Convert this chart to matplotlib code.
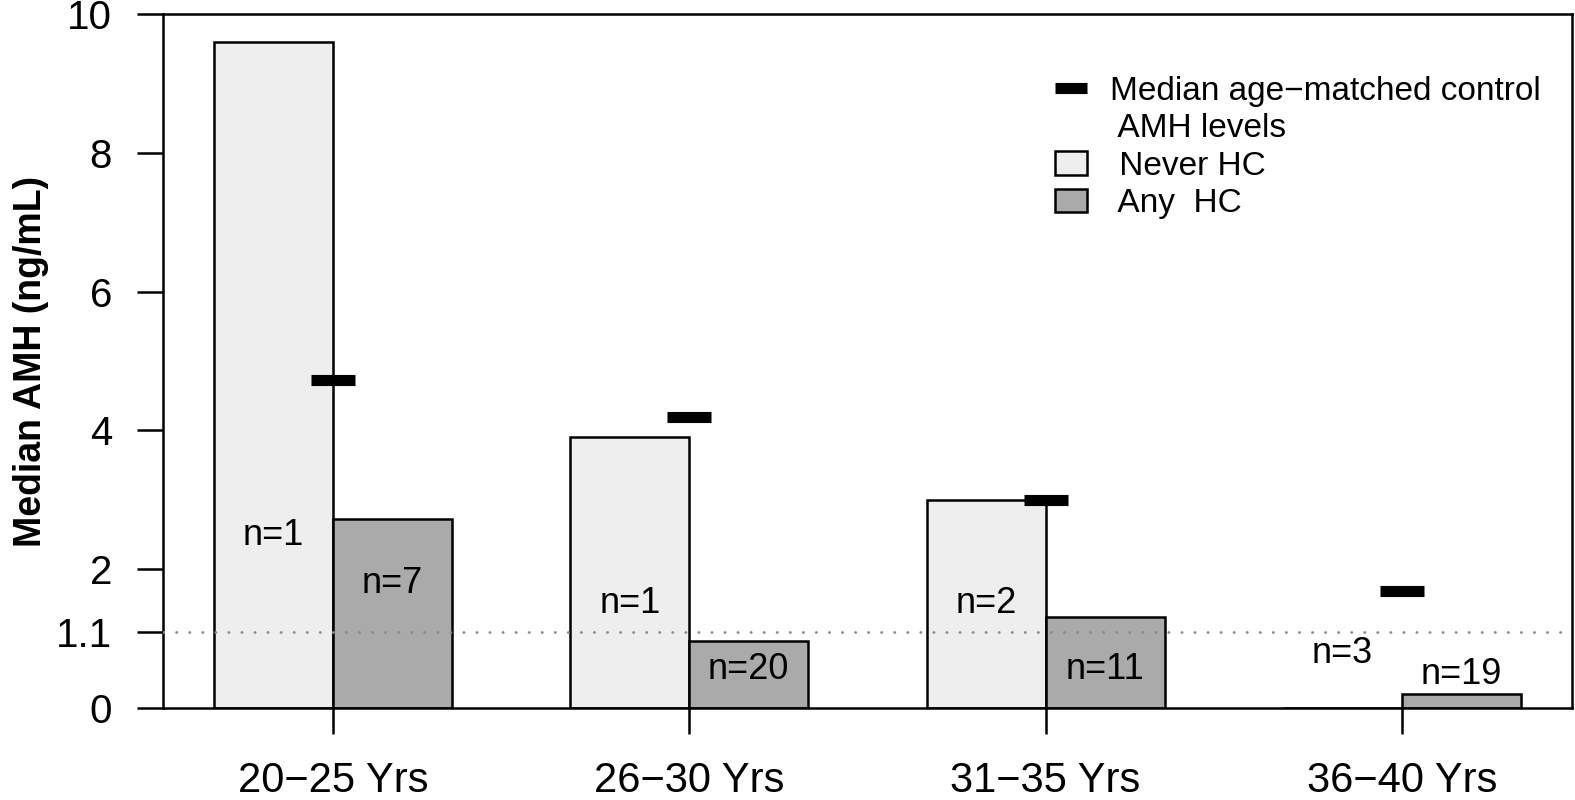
import numpy as np
import matplotlib
matplotlib.use("Agg")
import matplotlib.pyplot as plt
from matplotlib.lines import Line2D
from matplotlib.patches import Patch

plt.rcParams['font.family'] = ['Liberation Sans', 'DejaVu Sans']

# ========================
# Data
# ========================
age_groups = ["20\u221225 Yrs", "26\u221230 Yrs", "31\u221235 Yrs", "36\u221240 Yrs"]
never_hc = [9.6, 3.9, 3.0, 0.0]
any_hc = [2.72, 0.97, 1.31, 0.2]
control_median = [4.73, 4.19, 3.0, 1.68]
never_n = ["n=1", "n=1", "n=2", "n=3"]
any_n = ["n=7", "n=20", "n=11", "n=19"]
never_label_y = [2.48, 1.5, 1.5, 0.78]
any_label_y = [1.8, 0.55, 0.55, 0.48]
cutoff = 1.1
yticks = [0, 1.1, 2, 4, 6, 8, 10]
ytick_labels = ["0", "1.1", "2", "4", "6", "8", "10"]

# ========================
# Figure
# ========================
fig = plt.figure(figsize=(15.75, 8), dpi=100)
ax = fig.add_axes([0.1035, 0.115, 0.8945, 0.8675])

x = np.arange(len(age_groups))
width = 0.334
lw = 1.8

ax.bar(x - width / 2, never_hc, width, color="#EEEEEE", edgecolor="black", linewidth=lw, zorder=2)
ax.bar(x + width / 2, any_hc, width, color="#AAAAAA", edgecolor="black", linewidth=lw, zorder=2)

# cutoff reference line
ax.axhline(cutoff, color="#8c8c8c", linewidth=2, linestyle=(0, (0.1, 4.6)),
           dash_capstyle="round", zorder=3)

# age-matched control medians
ax.plot(x, control_median, linestyle="none", marker="_", markersize=31.7,
        markeredgewidth=8, color="black", zorder=4)

# sample sizes
for i in range(len(x)):
    ax.text(x[i] - width / 2, never_label_y[i], never_n[i], ha="center", va="center", fontsize=26, zorder=5)
    ax.text(x[i] + width / 2, any_label_y[i], any_n[i], ha="center", va="center", fontsize=26, zorder=5)

ax.set_xlim(-0.477, 3.477)
ax.set_ylim(0, 10)
ax.set_xticks(x)
ax.set_xticklabels(age_groups, fontsize=30)
ax.set_yticks(yticks)
ax.set_yticklabels(ytick_labels, fontsize=29)
ax.tick_params(axis="x", length=19, width=lw, pad=19)
ax.tick_params(axis="y", length=18.7, width=lw, pad=18)
for s in ax.spines.values():
    s.set_linewidth(lw)

ax.set_ylabel("Median AMH (ng/mL)", fontsize=27, fontweight="bold", labelpad=5)

# legend
handles = [
    Line2D([], [], color="black", linewidth=8, solid_capstyle="butt"),
    Line2D([], [], color="none"),
    Patch(facecolor="#EEEEEE", edgecolor="black", linewidth=lw),
    Patch(facecolor="#AAAAAA", edgecolor="black", linewidth=lw),
]
labels = ["Median age\u2212matched control", " AMH levels", " Never HC", " Any  HC"]
ax.legend(handles, labels, loc="upper right", bbox_to_anchor=(0.9875, 0.93), frameon=False,
          fontsize=24, handlelength=0.95, handleheight=0.7, handletextpad=0.7,
          labelspacing=0.19, borderaxespad=0)

fig.savefig("out.png", dpi=100)
